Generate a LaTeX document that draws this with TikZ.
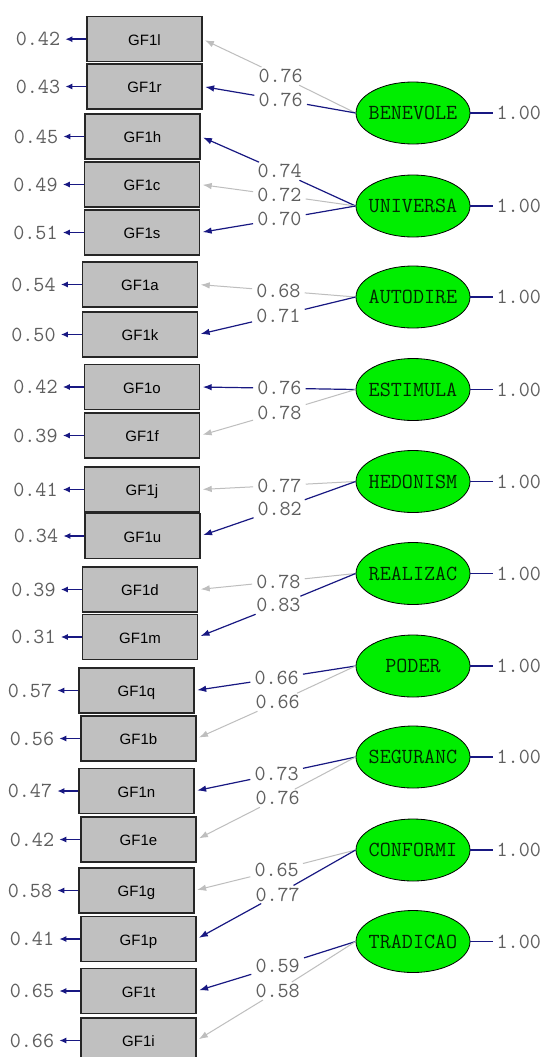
\documentclass[tikz,border=0pt]{standalone}
\usepackage{fontspec}
\setmainfont{Liberation Sans}
\newfontfamily\lmono{Latin Modern Mono}
\usetikzlibrary{arrows.meta,shapes.geometric,calc}
\definecolor{navyc}{RGB}{24,24,130}
\definecolor{lgrey}{RGB}{190,190,190}
\definecolor{boxgrey}{RGB}{192,192,192}
\definecolor{numtxt}{RGB}{95,95,95}
\definecolor{latgreen}{RGB}{0,238,0}
\begin{document}
\begin{tikzpicture}[x=1pt,y=-1pt,
  obs/.style={draw=black!85, line width=1.4pt, fill=boxgrey, minimum width=115pt,
    minimum height=45pt, inner sep=0pt, font=\fontsize{15}{16}\selectfont,
    text height=12.4pt, text depth=0pt},
  lat/.style={ellipse, draw=black, line width=0.8pt, fill=latgreen,
    minimum width=114pt, minimum height=62pt, inner sep=0pt,
    font=\lmono\fontsize{21.5}{22}\selectfont, text=black!85!green},
  num/.style={text=numtxt, font=\lmono\fontsize{21.5}{22}\selectfont, inner sep=0pt},
  lbl/.style={num, inner xsep=4pt, inner ysep=2pt},
  nv/.style={draw=navyc, line width=1.2pt, -{Latex[length=9pt,width=6.5pt]}, shorten >=2.5pt},
  lg/.style={draw=lgrey, line width=1pt, -{Latex[length=9pt,width=6.5pt]}, shorten >=2.5pt},
  errarr/.style={draw=navyc, line width=1.6pt, -{Latex[length=7pt,width=6pt]}},
  varline/.style={draw=navyc, line width=1.2pt}]
\path[use as bounding box, clip] (0,0) rectangle (544,1057);
\fill[white] (0,0) rectangle (544,1057);

% observed variables with error variances
\foreach \n/\x/\y/\e in {
  l/144.5/39.2/0.42, r/144.5/86.5/0.43, h/142.5/136.5/0.45, c/142/184.5/0.49,
  s/142/232.5/0.51, a/140/284.5/0.54, k/140/334.5/0.50, o/142/387/0.42,
  f/142/435.5/0.39, j/142/489.5/0.41, u/142.5/536/0.34, d/140/589.5/0.39,
  m/140/637/0.31, q/136.5/690.5/0.57, b/138.5/738.5/0.56, n/136.5/791/0.47,
  e/138.5/839.5/0.42, g/136.5/890.5/0.58, p/138.5/939/0.41, t/138.5/991/0.65,
  i/138.5/1040.5/0.66} {
  \node[obs] (g\n) at (\x,\y) {GF1\n};
  \node[num, anchor=east, inner xsep=5pt] (e\n) at ([xshift=-21pt]g\n.west) {\e};
  \draw[errarr] (g\n.west) -- (e\n.east);
}

% latent variables
\foreach \n/\y in {BENEVOLE/113, UNIVERSA/206, AUTODIRE/297, ESTIMULA/389.5,
  HEDONISM/481.5, REALIZAC/573.5, PODER/666, SEGURANC/757, CONFORMI/850,
  TRADICAO/941.5} {
  \node[lat] (\n) at (413,\y) {\makebox[0pt]{\n}};
  \node[num, anchor=west, inner xsep=3pt] (v\n) at ([xshift=23pt]\n.east) {1.00};
  \draw[varline] (\n.east) -- (v\n.west);
}

% loadings
\foreach \L/\o/\c/\v in {
  BENEVOLE/l/lg/0.76, BENEVOLE/r/nv/0.76,
  UNIVERSA/h/nv/0.74, UNIVERSA/c/lg/0.72, UNIVERSA/s/nv/0.70,
  AUTODIRE/a/lg/0.68, AUTODIRE/k/nv/0.71,
  ESTIMULA/o/nv/0.76, ESTIMULA/f/lg/0.78,
  HEDONISM/j/lg/0.77, HEDONISM/u/nv/0.82,
  REALIZAC/d/lg/0.78, REALIZAC/m/nv/0.83,
  PODER/q/nv/0.66, PODER/b/lg/0.66,
  SEGURANC/n/nv/0.73, SEGURANC/e/lg/0.76,
  CONFORMI/g/lg/0.65, CONFORMI/p/nv/0.77,
  TRADICAO/t/nv/0.59, TRADICAO/i/lg/0.58} {
  \node[lbl] (L\o) at ($(\L.west)!0.5!([xshift=3pt]g\o.east)$) {\v};
  \draw[\c] (\L.west) -- (L\o) -- (g\o.east);
}
\end{tikzpicture}
\end{document}
